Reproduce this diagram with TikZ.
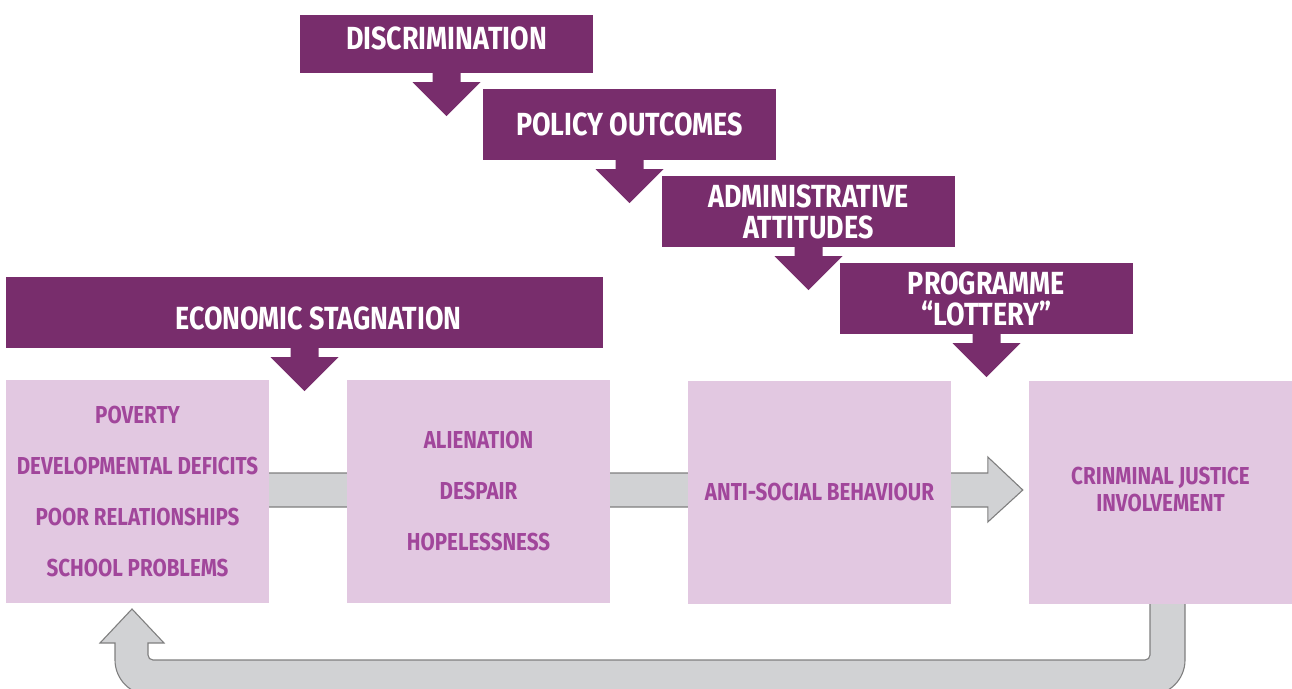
\documentclass[tikz,border=0pt]{standalone}
\usepackage{fontspec}
\newfontfamily\firacond{Fira Sans}[FakeStretch=0.84]
\usepackage{tikz,xcolor}
\usetikzlibrary{calc,backgrounds}
\definecolor{purpdark}{HTML}{782D6C}
\definecolor{purplight}{HTML}{E2C8E1}
\definecolor{purptext}{HTML}{A1469B}
\definecolor{barfill}{HTML}{D1D2D4}
\definecolor{barline}{HTML}{7F7F7F}
\tikzstyle{cause} = [fill=purpdark, text=white, minimum width=293pt, minimum height=71pt, inner sep=0pt, align=center, font=\firacond\bfseries\fontsize{32}{31}\selectfont]
\tikzstyle{stage} = [fill=purplight, text=purptext, minimum width=263pt, minimum height=223pt, inner sep=0pt, align=center, font=\firacond\bfseries\fontsize{24.5}{51}\selectfont]
\tikzstyle{flow} = [fill=barfill, draw=barline, line width=1.1pt, line join=miter]
\newcommand{\dropdown}[1]{\fill[purpdark] ($(#1.south)+(-14,-1)$) -- ++(0,10) -- ++(-20,0) -- ++(34,34) -- ++(34,-34) -- ++(-20,0) -- ++(0,-10) -- cycle;}

\begin{document}
\begin{tikzpicture}[x=1pt, y=-1pt]
\clip (0,0) rectangle (1292,688);

% top causes
\node[cause, minimum height=58pt, text depth=12pt] (discr) at (446.5,44) {DISCRIMINATION};
\node[cause] (policy) at (629.5,124.5) {POLICY OUTCOMES};
\node[cause] (admin) at (808.5,211.5) {ADMINISTRATIVE\\ATTITUDES};
\node[cause] (lottery) at (986.5,298.5) {PROGRAMME\\“LOTTERY”};
\node[cause, minimum width=597pt, text height=34pt] (econ) at (304.5,312.5) {\hspace*{28pt}ECONOMIC STAGNATION};

\dropdown{discr}
\dropdown{policy}
\dropdown{admin}
\dropdown{lottery}
\dropdown{econ}

% stages
\node[stage] (deficits) at (137.5,491.5) {POVERTY\\DEVELOPMENTAL DEFICITS\\POOR RELATIONSHIPS\\SCHOOL PROBLEMS};
\node[stage] (despair) at (478.5,491.5) {ALIENATION\\DESPAIR\\HOPELESSNESS};
\node[stage] (antisoc) at (819.5,492.5) {ANTI-SOCIAL BEHAVIOUR};
\node[stage, font=\firacond\bfseries\fontsize{24.5}{27}\selectfont, text depth=6pt] (cji) at (1160.5,492.5) {CRINMINAL JUSTICE\\INVOLVEMENT};

\begin{scope}[on background layer]
% main flow
\draw[flow] (deficits.center |- 0,473) -- ($(cji.west |- 0,473)+(-41,0)$) -- ++(0,-16) -- ($(cji.west |- 0,490)+(-6,0)$) -- ($(cji.west |- 0,522)+(-41,0)$) -- ++(0,-15) -- (deficits.center |- 0,507) -- cycle;
% feedback
\draw[flow] (1150,595) -- (1150,655) arc[start angle=0, end angle=-90, radius=5pt] -- (153,660) arc[start angle=-90, end angle=-180, radius=5pt] -- (148,643) -- (164,643) -- (132,609) -- (100,643) -- (115,643) -- (115,660) arc[start angle=180, end angle=270, radius=35pt] -- (1150,695) arc[start angle=270, end angle=360, radius=35pt] -- (1185,595);
\end{scope}
\end{tikzpicture}
\end{document}
